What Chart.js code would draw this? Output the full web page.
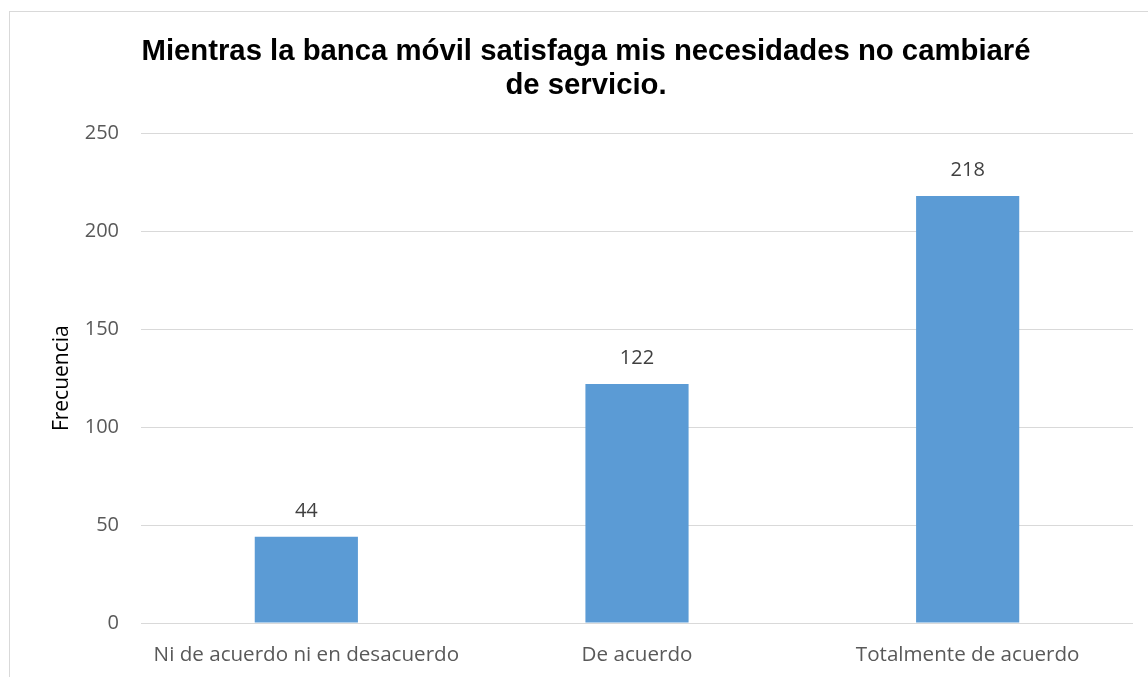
<!DOCTYPE html>
<html>
<head>
<meta charset="utf-8">
<script src="https://cdn.jsdelivr.net/npm/chart.js@4"></script>
<style>
  html, body { margin: 0; padding: 0; background: #fff; overflow: hidden; }
  #box { position: absolute; left: 9px; top: 11px; width: 1152px; height: 666px;
         border-left: 1px solid #d9d9d9; border-top: 1px solid #d9d9d9; }
</style>
</head>
<body>
<div id="box"><canvas id="c"></canvas></div>
<script>
// Datos del gráfico
const categorias = ['Ni de acuerdo ni en desacuerdo', 'De acuerdo', 'Totalmente de acuerdo'];
const frecuencias = [44, 122, 218];
const titulo = ['Mientras la banca móvil satisfaga mis necesidades no cambiaré', 'de servicio.'];
const ejeY = { min: 0, max: 250, paso: 50 };

const FONT = "'Open Sans', sans-serif";

// etiquetas de valor encima de cada barra
const etiquetas = {
  id: 'etiquetas',
  afterDatasetsDraw(chart) {
    const ctx = chart.ctx;
    const meta = chart.getDatasetMeta(0);
    ctx.save();
    ctx.fillStyle = '#404040';
    ctx.font = '20px ' + FONT;
    ctx.textAlign = 'center';
    ctx.textBaseline = 'middle';
    meta.data.forEach((bar, i) => {
      ctx.fillText(String(frecuencias[i]), bar.x, bar.y - 26);
    });
    ctx.restore();
  }
};

new Chart(document.getElementById('c'), {
  type: 'bar',
  data: {
    labels: categorias,
    datasets: [{
      data: frecuencias,
      backgroundColor: '#5b9bd5',
      categoryPercentage: 1,
      barPercentage: 0.312
    }]
  },
  options: {
    responsive: true, maintainAspectRatio: false, animation: false,
    layout: { padding: 0 },
    plugins: {
      legend: { display: false },
      tooltip: { enabled: false },
      title: {
        display: true, text: titulo, color: '#000',
        font: { family: "'Liberation Sans', Arial, sans-serif", size: 29.3, weight: 'bold', lineHeight: 1.15 },
        padding: { top: 23, bottom: 31 }
      }
    },
    scales: {
      x: {
        grid: { display: false, drawTicks: false },
        border: { display: false },
        ticks: { color: '#595959', font: { family: FONT, size: 20.6 }, padding: 20, maxRotation: 0 },
        afterFit(s) { s.height = 55; }
      },
      y: {
        min: ejeY.min, max: ejeY.max,
        grid: { color: '#d9d9d9', lineWidth: 1, drawTicks: false },
        border: { display: false },
        ticks: { stepSize: ejeY.paso, color: '#595959', font: { family: FONT, size: 20 }, padding: 22 },
        title: { display: true, text: 'Frecuencia', color: '#000', font: { family: FONT, size: 21 }, padding: { top: 39, bottom: 0 } },
        afterFit(s) { s.width = 131; }
      },
      // margen derecho vacío
      derecha: {
        position: 'right', display: true,
        grid: { display: false, drawTicks: false },
        border: { display: false },
        ticks: { display: false },
        afterFit(s) { s.width = 29; }
      }
    }
  },
  plugins: [etiquetas]
});
</script>
</body>
</html>
